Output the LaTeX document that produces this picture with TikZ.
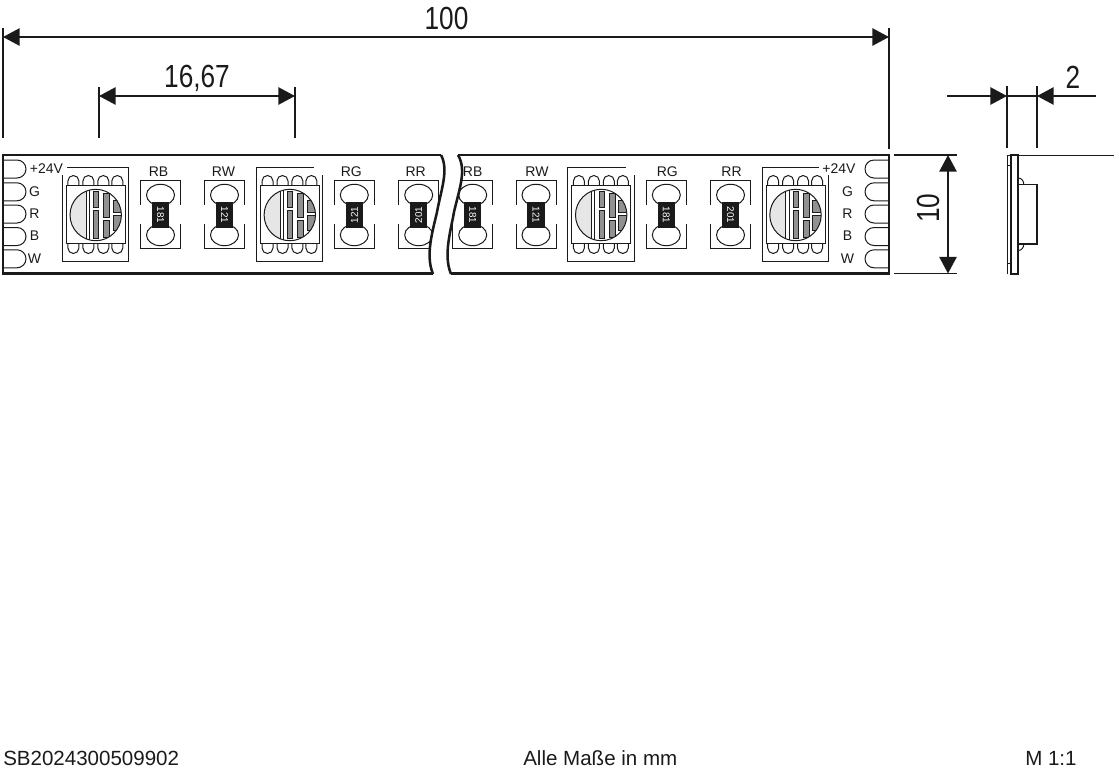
\documentclass[tikz,border=0pt]{standalone}
\usepackage{fontspec}
\setmainfont{Liberation Sans}
\newfontfamily\narrowfont[FakeStretch=0.82]{Liberation Sans}
\usetikzlibrary{arrows.meta}
\definecolor{inkdark}{RGB}{26, 26, 26}
\definecolor{ledlight}{RGB}{230, 230, 230}
\definecolor{ledbar}{RGB}{145, 145, 145}
\tikzset{
	outline/.style={draw=inkdark, line width=0.75pt},
	thick outline/.style={draw=inkdark, line width=1.9pt},
	dimline/.style={draw=inkdark, line width=1.3pt},
	ledbar fill/.style={fill=ledbar, draw=inkdark, line width=0.3pt},
	dimtip/.style={{Triangle[length=12.5pt,width=13pt]}-{Triangle[length=12.5pt,width=13pt]}},
	dimtext/.style={text=inkdark, inner sep=0pt, font=\narrowfont\fontsize{24}{24}\selectfont},
	smalltext/.style={text=inkdark, inner sep=0pt, font=\fontsize{10.5}{10.5}\selectfont},
	valuetext/.style={text=white, inner sep=0pt, font=\fontsize{7.4}{7.4}\selectfont},
	foottext/.style={text=inkdark, inner sep=0pt, anchor=base west, font=\fontsize{15.4}{15.4}\selectfont}
}
% LED chip, centred on (#1,215)
\newcommand{\ledchip}[1]{
	\begin{scope}[shift={(#1,215)}]
		\foreach \padx in {-22.3,-7.3,7.6,21.6}{
			\draw[outline] (\padx-5.5,-30) -- (\padx-5.5,-34) arc (180:360:5.5) -- (\padx+5.5,-30);
			\draw[outline] (\padx-5.5,28.5) -- (\padx-5.5,33) arc (180:0:5.5) -- (\padx+5.5,28.5);
		}
		\draw[outline] (-29.5,-30) rectangle (29.5,28.5);
		\begin{scope}
			\clip (0,0) circle (25.7);
			\fill[ledlight] (-30,-30) rectangle (-9.7,30);
			\path[ledbar fill] (-2.4,-24) rectangle (2.6,-8);
			\path[ledbar fill] (-2.4,-5) rectangle (2.6,23.3);
			\path[ledbar fill] (7.6,-21.7) rectangle (13.6,1.7);
			\path[ledbar fill] (7.6,5) rectangle (13.6,21.7);
			\path[ledbar fill] (17,-15) rectangle (27,-3.3);
			\path[ledbar fill] (17,0) rectangle (27,15);
			\draw[outline] (-9.7,-30) -- (-9.7,30);
			\draw[outline] (-6.4,-30) -- (-6.4,30);
		\end{scope}
		\draw[outline] (0,0) circle (25.7);
	\end{scope}
}
% resistor: centre x, name, label, value, angle, label x
\newcommand{\smdpart}[6]{
	\begin{scope}[shift={(#1,215)}]
		\draw[outline] (-20,-10) -- (-20,-35) -- (20,-35) -- (20,-10);
		\draw[outline] (-20,9) -- (-20,33) -- (20,33) -- (20,9);
		\draw[outline] (0,-20) ellipse (14 and 10.7);
		\draw[outline] (0,20) ellipse (14 and 10.7);
		\fill[inkdark] (-8.7,-13.3) rectangle (8.7,13.3);
		\node[valuetext, rotate=#5] (#2val) at (0,0) {#4};
		\node[smalltext] (#2lbl) at (#6,-43.5) {#3};
	\end{scope}
}
\begin{document}
\begin{tikzpicture}[x=0.75pt,y=-0.75pt]
	\useasboundingbox (0,0) rectangle (1119,768);

	% resistors
	\smdpart{160.5}{rba}{RB}{181}{-90}{-2}
	\smdpart{224.5}{rwa}{RW}{121}{-90}{-1}
	\smdpart{354.3}{rga}{RG}{121}{90}{-3}
	\smdpart{418.7}{rra}{RR}{201}{90}{-3}
	\smdpart{472.7}{rbb}{RB}{181}{-90}{0}
	\smdpart{536}{rwb}{RW}{121}{-90}{1}
	\smdpart{666.3}{rgb}{RG}{181}{-90}{1}
	\smdpart{730.5}{rrb}{RR}{201}{-90}{1}

	% LED chips
	\ledchip{95.7}
	\ledchip{289.8}
	\ledchip{601.2}
	\ledchip{795.5}
	\draw[outline] (62.7,175) -- (62.7,261.3) -- (128.3,261.3) -- (128.3,167.3) -- (67,167.3);
	\draw[outline] (314,167.3) -- (256.7,167.3) -- (256.7,261.3) -- (322.7,261.3) -- (322.7,175);
	\draw[outline] (626,167.3) -- (567.3,167.3) -- (567.3,261.3) -- (634.7,261.3) -- (634.7,175);
	\draw[outline] (819,167.3) -- (762.3,167.3) -- (762.3,261.3) -- (828.3,261.3) -- (828.3,175);

	% contacts
	\foreach \pady in {169,191.8,214,236.5,258.8}{
		\draw[outline] (3,\pady-9) -- (17,\pady-9) arc (-90:90:9) -- (3,\pady+9);
		\draw[outline] (889,\pady-9) -- (874,\pady-9) arc (270:90:9) -- (889,\pady+9);
	}

	% strip labels
	\node[smalltext] (lvl) at (46.5,168.5) {+24V};
	\node[smalltext] (gl) at (34.5,191.5) {G};
	\node[smalltext] (rl) at (34.5,213.5) {R};
	\node[smalltext] (bl) at (34.5,236) {B};
	\node[smalltext] (wl) at (34.5,259) {W};
	\node[smalltext] (lvr) at (839,168.5) {+24V};
	\node[smalltext] (gr) at (847.5,191.5) {G};
	\node[smalltext] (rr) at (847.5,213.5) {R};
	\node[smalltext] (br) at (847.5,236) {B};
	\node[smalltext] (wr) at (847.5,259) {W};

	% break in the strip
	\fill[white] (441,155) .. controls (449,170) and (441,190) .. (437,212) .. controls (433,230) and (425,255) .. (433,274)
		-- (451,274) .. controls (443,255) and (451,230) .. (454,212) .. controls (459,190) and (467,170) .. (458,155) -- cycle;
	\draw[thick outline] (441,155) .. controls (449,170) and (441,190) .. (437,212) .. controls (433,230) and (425,255) .. (433,274);
	\draw[thick outline] (458,155) .. controls (467,170) and (459,190) .. (454,212) .. controls (451,230) and (443,255) .. (451,274);

	% strip outline
	\draw[thick outline] (441,155) -- (3,155) -- (3,273.5) -- (433,273.5);
	\draw[thick outline] (458,155) -- (889,155) -- (889,273.5) -- (451,273.5);

	% dimension 100
	\coordinate (alef) at (3,37);
	\coordinate (arig) at (889,37);
	\draw[dimline] (3,28) -- (3,138);
	\draw[dimline] (889,28) -- (889,149);
	\draw[dimline, dimtip] (alef) -- (arig);
	\node[dimtext] (dima) at (446.5,18) {100};

	% dimension 16,67
	\coordinate (blef) at (99,96);
	\coordinate (brig) at (295,96);
	\draw[dimline] (99,87) -- (99,138);
	\draw[dimline] (295,87) -- (295,138);
	\draw[dimline, dimtip] (blef) -- (brig);
	\node[dimtext] (dimb) at (197,78) {16,67};

	% dimension 10
	\coordinate (ctop) at (948,155);
	\coordinate (cbot) at (948,273.5);
	\draw[dimline] (894,155) -- (957,155);
	\draw[dimline] (894,273.5) -- (957,273.5);
	\draw[dimline, dimtip] (ctop) -- (cbot);
	\node[dimtext, rotate=90] (dimc) at (928,208) {10};

	% dimension 2
	\coordinate (dlef) at (1007,96);
	\coordinate (drig) at (1037,96);
	\draw[dimline] (1007,86) -- (1007,148);
	\draw[dimline] (1037,86) -- (1037,148);
	\draw[dimline, -{Triangle[length=12.5pt,width=13pt]}] (947,96) -- (dlef);
	\draw[dimline, -{Triangle[length=12.5pt,width=13pt]}] (1096,96) -- (drig);
	\draw[dimline] (dlef) -- (drig);
	\node[dimtext] (dimd) at (1073,77) {2};

	% side view
	\draw[outline] (1007,155) -- (1114,155);
	\draw[outline] (1007,155) -- (1007,274);
	\draw[outline] (1007,165) -- (1011,165);
	\draw[outline] (1007,263.5) -- (1011,263.5);
	\draw[dimline] (1010.7,154.5) rectangle (1018.3,274);
	\draw[dimline] (1018.3,184.5) rectangle (1036.7,244.3);
	\draw[outline] (1018.3,178) arc (-90:0:5.5 and 6.5);
	\draw[outline] (1018.3,250.5) arc (90:0:5.5 and 6.5);

	% footer
	\node[foottext] (code) at (3,765.4) {SB2024300509902};
	\node[foottext] (note) at (523,765.4) {Alle Maße in mm};
	\node[foottext] (scale) at (1025,765.4) {M 1:1};
\end{tikzpicture}
\end{document}
